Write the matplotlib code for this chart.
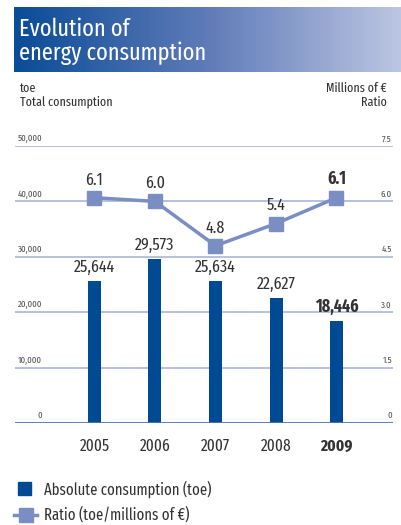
import numpy as np
import matplotlib
matplotlib.use("Agg")
import matplotlib.pyplot as plt
from matplotlib import font_manager
from matplotlib.colors import LinearSegmentedColormap

years = ["2005", "2006", "2007", "2008", "2009"]
consumption = [25644, 29573, 25634, 22627, 18446]
consumption_labels = ["25,644", "29,573", "25,634", "22,627", "18,446"]
ratio = [6.1, 6.0, 4.8, 5.4, 6.1]
ratio_labels = ["6.1", "6.0", "4.8", "5.4", "6.1"]
left_ticks = [0, 10000, 20000, 30000, 40000, 50000]
left_tick_labels = ["0", "10,000", "20,000", "30,000", "40,000", "50,000"]
right_tick_labels = ["0", "1.5", "3.0", "4.5", "6.0", "7.5"]

names = {f.name for f in font_manager.fontManager.ttflist}
cands = ["Fira Sans Extra Condensed", "Fira Sans Condensed", "Ubuntu Condensed", "Encode Sans Condensed",
         "Roboto Condensed", "Asap Condensed", "Archivo Narrow", "Liberation Sans Narrow"]
main = next((c for c in cands if c in names), None)
FAM = ([main] if main else []) + ["DejaVu Sans"]
plt.rcParams['font.family'] = FAM

BAR = "#004a93"
LINE = "#7b8ec4"
GRID = "#aab6da"
TXT = "#333333"

W, H = 401, 525
fig = plt.figure(figsize=(W / 100, H / 100), dpi=100)

def px(x0, y0, x1, y1):
    return [x0 / W, 1 - y1 / H, (x1 - x0) / W, (y1 - y0) / H]

# Title banner with gradient
bax = fig.add_axes(px(14, 7, 401, 72))
grad = np.linspace(0, 1, 256).reshape(1, -1)
cmap = LinearSegmentedColormap.from_list("g", ["#0a4c97", "#5f7bb8", "#bcc6e2"])
bax.imshow(grad, aspect="auto", cmap=cmap, extent=[0, 1, 0, 1])
bax.set_axis_off()
fig.text(19 / W, 1 - 29 / H, "Evolution of", color="white", fontsize=17.5, va="center", ha="left")
fig.text(19 / W, 1 - 53 / H, "energy consumption", color="white", fontsize=17.5, va="center", ha="left")

# header texts
fig.text(20 / W, 1 - 88 / H, "toe", color=TXT, fontsize=9.4, va="center")
fig.text(20 / W, 1 - 102 / H, "Total consumption", color=TXT, fontsize=9.4, va="center")
fig.text(387 / W, 1 - 88 / H, "Millions of €", color=TXT, fontsize=9.4, va="center", ha="right")
fig.text(387 / W, 1 - 102 / H, "Ratio", color=TXT, fontsize=9.4, va="center", ha="right")

# main axes
ax = fig.add_axes(px(15, 146, 393, 423))
x = np.arange(len(years))
sp = 60.5
ax.set_xlim((15 - 94.5) / sp, (393 - 94.5) / sp)
ax.set_ylim(0, 50000)
ax.set_axis_off()

for t in left_ticks[1:]:
    ax.axhline(t, color=GRID, lw=1.2, zorder=1)
ax.axhline(0, color="#4f73b3", lw=2, zorder=4)

ax.bar(x, consumption, width=13 / sp, color=BAR, zorder=3)

scale = 50000 / 7.5
ry = [r * scale for r in ratio]
ax.plot(x, ry, color=LINE, lw=2.5, marker="s", markersize=9.5, zorder=5)

for i in x:
    bold = "bold" if i == len(x) - 1 else "normal"
    ax.annotate(consumption_labels[i], (i, consumption[i]), xytext=(0, 4), textcoords="offset points",
                ha="center", va="bottom", fontsize=12.5, color=TXT, fontweight=bold)
    ax.annotate(ratio_labels[i], (i, ry[i]), xytext=(0, 7), textcoords="offset points",
                ha="center", va="bottom", fontsize=12.5, color=TXT, fontweight=bold)
    ax.annotate(years[i], (i, 0), xytext=(0, -17), textcoords="offset points",
                ha="center", va="center", fontsize=12, color=TXT, fontweight=bold, annotation_clip=False)

for t, ll, rl in zip(left_ticks, left_tick_labels, right_tick_labels):
    ax.annotate(ll, (42 / W, t), xycoords=("figure fraction", "data"), xytext=(0, 2), textcoords="offset points",
                ha="right", va="bottom", fontsize=7, color="#555555", annotation_clip=False)
    ax.annotate(rl, (392 / W, t), xycoords=("figure fraction", "data"), xytext=(0, 2), textcoords="offset points",
                ha="right", va="bottom", fontsize=7, color="#555555", annotation_clip=False)

# legend
lax = fig.add_axes(px(0, 470, 401, 525))
lax.set_xlim(0, W)
lax.set_ylim(525, 470)
lax.set_axis_off()
lax.add_patch(plt.Rectangle((18, 482), 13, 13, color=BAR))
lax.text(44, 489, "Absolute consumption (toe)", fontsize=11.5, color=TXT, va="center")
lax.plot([14, 37], [515, 515], color=LINE, lw=2.5)
lax.plot([26], [515], marker="s", markersize=9.5, color=LINE)
lax.text(44, 515, "Ratio (toe/millions of €)", fontsize=11.5, color=TXT, va="center")

fig.savefig("out.png", dpi=100)
